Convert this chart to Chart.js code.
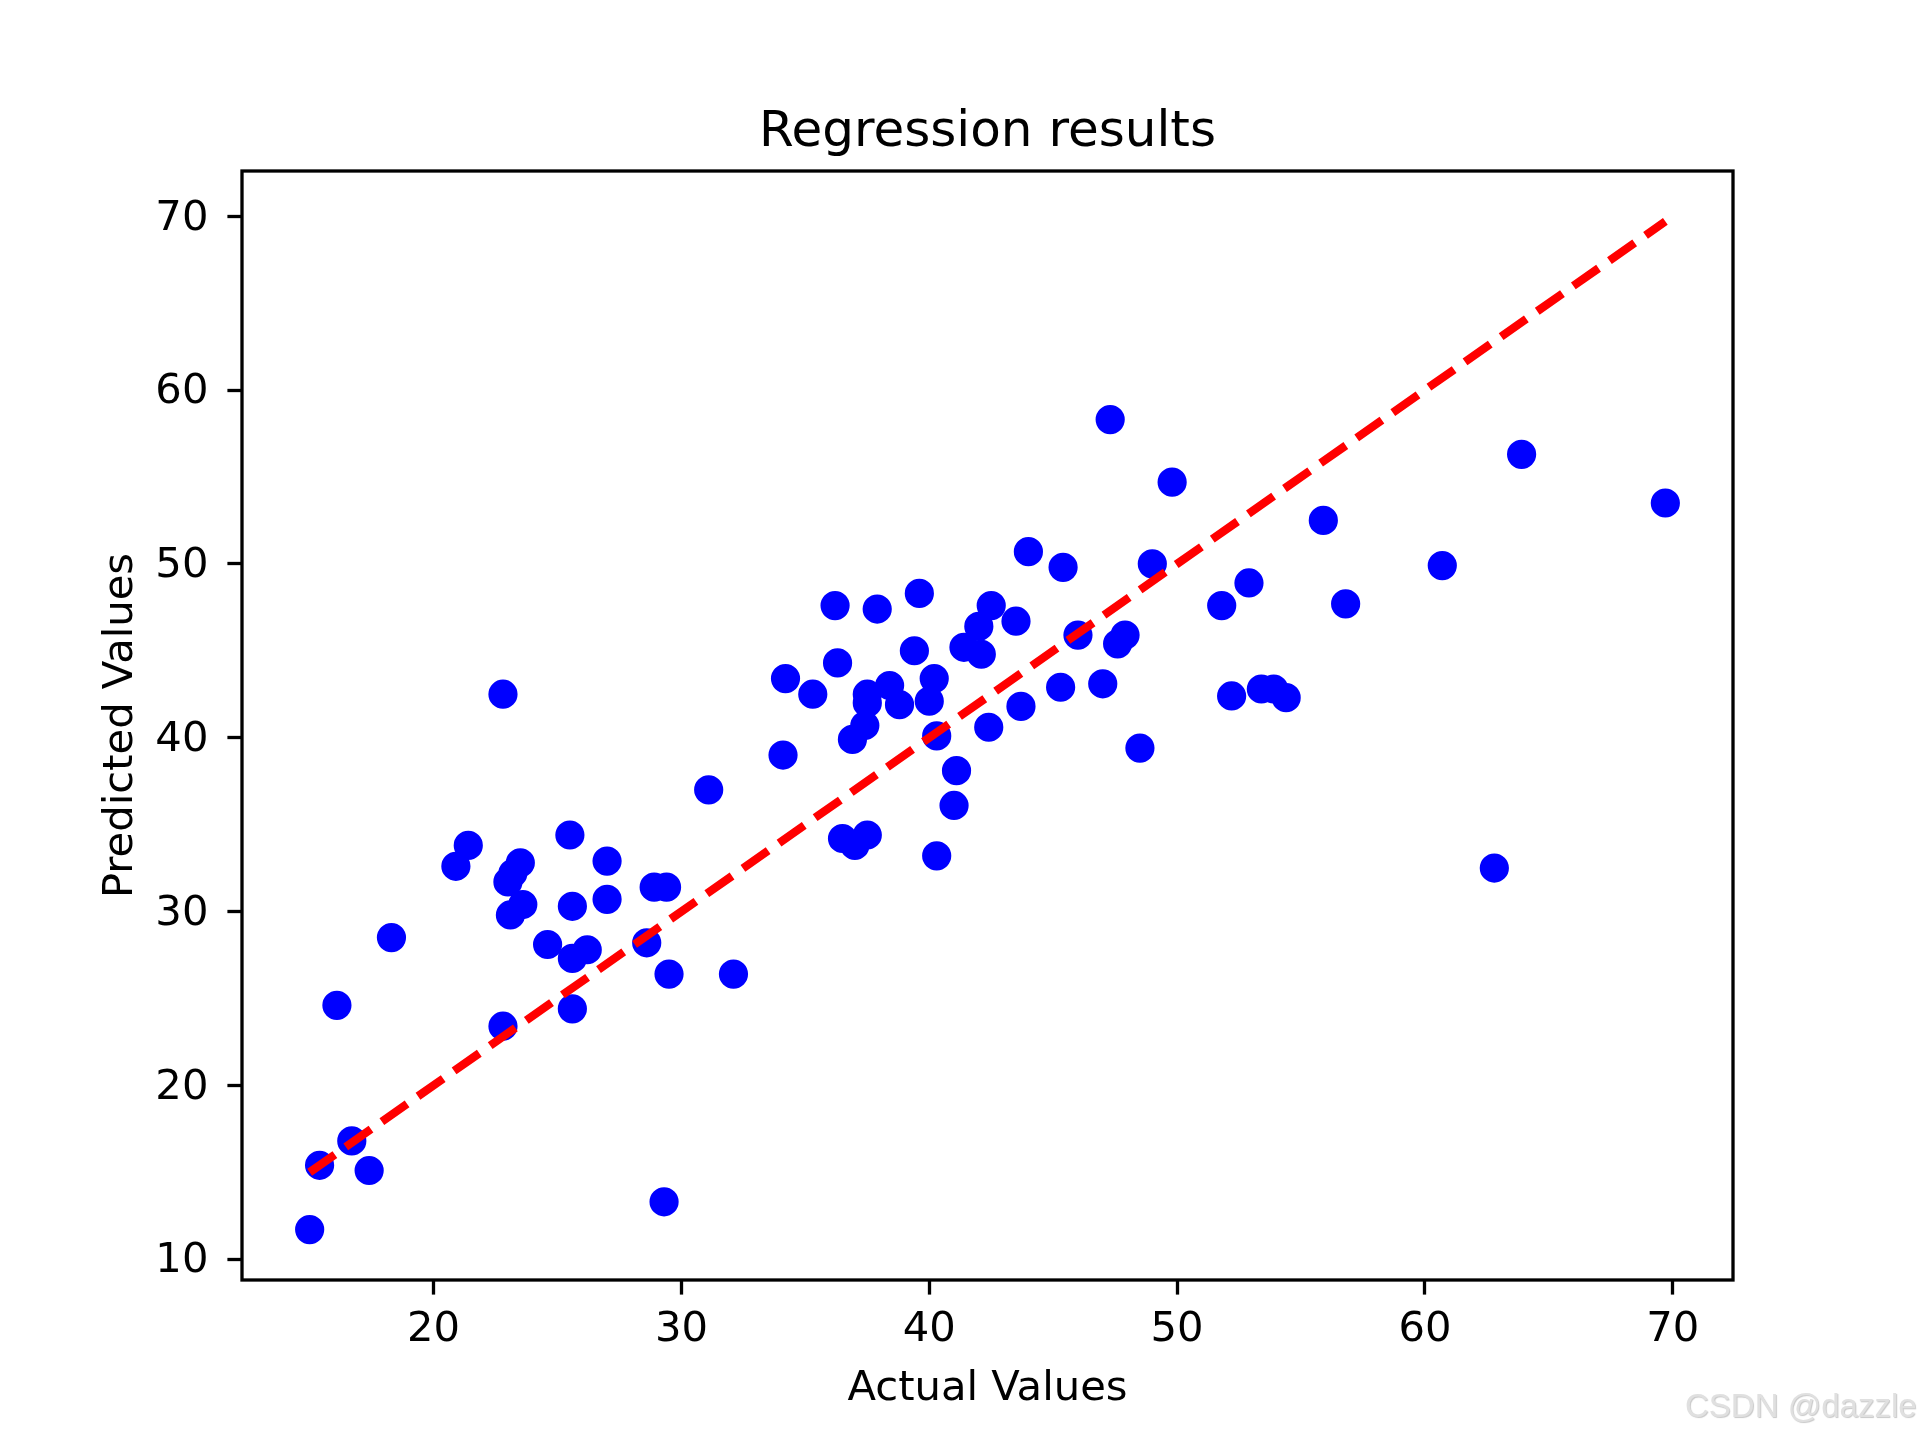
<!DOCTYPE html>
<html>
<head>
<meta charset="utf-8">
<script src="https://cdn.jsdelivr.net/npm/chart.js@4/dist/chart.umd.min.js"></script>
<style>
  html, body { margin: 0; padding: 0; background: #fff; }
  canvas { display: block; }
</style>
</head>
<body>
<canvas id="myChart" width="1926" height="1437"></canvas>
<script>
// scatter data (actual vs predicted)
const actualValues = [
    15.0, 15.4, 16.1, 16.7, 17.4, 18.3, 20.9, 21.4, 22.8, 22.8,
    23.0, 23.2, 23.1, 23.5, 23.6, 24.6, 25.5, 25.6, 25.6, 25.6,
    26.2, 27.0, 27.0, 28.6, 28.9, 29.4, 29.3, 29.5, 31.1, 32.1,
    34.1, 34.2, 35.3, 36.2, 36.3, 36.5, 36.9, 37.0, 37.4, 37.5,
    37.5, 37.5, 37.9, 38.4, 38.8, 39.4, 39.6, 40.0, 40.2, 40.3,
    40.3, 41.0, 41.1, 41.4, 42.0, 42.1, 42.4, 42.5, 43.5, 43.7,
    44.0, 45.3, 45.4, 46.0, 47.0, 47.3, 47.6, 47.9, 48.5, 49.0,
    49.8, 51.8, 52.2, 52.9, 53.4, 53.9, 54.4, 55.9, 56.8, 60.7,
    62.8, 63.9, 69.7
];
const predictedValues = [
    11.7, 15.4, 24.6, 16.8, 15.1, 28.5, 32.6, 33.8, 42.5, 23.4,
    31.7, 32.2, 29.8, 32.8, 30.4, 28.1, 34.4, 30.3, 27.3, 24.4,
    27.8, 32.9, 30.7, 28.2, 31.4, 31.4, 13.3, 26.4, 37.0, 26.4,
    39.0, 43.4, 42.5, 47.6, 44.3, 34.2, 39.9, 33.8, 40.7, 42.0,
    42.5, 34.4, 47.4, 43.0, 41.9, 45.0, 48.3, 42.1, 43.4, 40.1,
    33.2, 36.1, 38.1, 45.2, 46.4, 44.8, 40.6, 47.6, 46.7, 41.8,
    50.7, 42.9, 49.8, 45.9, 43.1, 58.3, 45.4, 45.9, 39.4, 50.0,
    54.7, 47.6, 42.4, 48.9, 42.8, 42.8, 42.3, 52.5, 47.7, 49.9,
    32.5, 56.3, 53.5
];

const xTicks = [20, 30, 40, 50, 60, 70];
const yTicks = [10, 20, 30, 40, 50, 60, 70];

const FONT = "DejaVu Sans";

const points = actualValues.map((v, i) => ({ x: v, y: predictedValues[i] }));
const lo = Math.min(...actualValues);
const hi = Math.max(...actualValues);

// axes frame + watermark
const framePlugin = {
    id: "frame",
    afterDraw(chart) {
        const { ctx, chartArea } = chart;
        ctx.save();
        ctx.strokeStyle = "#000";
        ctx.lineWidth = 3.3;
        ctx.strokeRect(chartArea.left, chartArea.top,
            chartArea.right - chartArea.left, chartArea.bottom - chartArea.top);

        ctx.font = '33px "Liberation Sans", Arial, sans-serif';
        ctx.textAlign = "left";
        ctx.textBaseline = "alphabetic";
        ctx.shadowColor = "rgba(0,0,0,0.22)";
        ctx.shadowOffsetX = 1;
        ctx.shadowOffsetY = 1;
        ctx.shadowBlur = 1;
        ctx.fillStyle = "#e0e0e0";
        ctx.fillText("CSDN @dazzle", 1685, 1417);
        ctx.restore();
    },
};

const config = {
    type: "scatter",
    data: {
        datasets: [{
                type: "line",
                label: "Ideal",
                data: [{ x: lo, y: lo }, { x: hi, y: hi }],
                borderColor: "#ff0000",
                borderWidth: 8.3,
                borderDash: [30.8, 13.3],
                borderCapStyle: "butt",
                pointRadius: 0,
                fill: false,
                order: 1,
            },
            {
                label: "Predictions",
                data: points,
                backgroundColor: "#0000ff",
                borderColor: "#0000ff",
                borderWidth: 4.2,
                pointRadius: 12.5,
                pointHoverRadius: 12.5,
                order: 2,
            },
        ],
    },
    options: {
        responsive: false,
        animation: false,
        layout: {
            padding: { left: 0, right: 193, top: 0, bottom: 0 },
        },
        plugins: {
            legend: { display: false },
            tooltip: { enabled: false },
            title: {
                display: true,
                text: "Regression results",
                color: "#000",
                fullSize: false,
                font: { family: FONT, size: 50, weight: "normal", lineHeight: 1.2 },
                padding: { top: 103.5, bottom: 7.5 },
            },
        },
        scales: {
            x: {
                type: "linear",
                min: 12.27,
                max: 72.43,
                afterBuildTicks: (scale) => {
                    scale.ticks = xTicks.map((v) => ({ value: v }));
                },
                afterFit: (scale) => {
                    scale.height = 157;
                },
                border: { display: false },
                grid: {
                    drawOnChartArea: false,
                    drawTicks: true,
                    tickLength: 14.6,
                    tickWidth: 3.3,
                    tickColor: "#000",
                },
                ticks: {
                    color: "#000",
                    padding: 11,
                    maxRotation: 0,
                    font: { family: FONT, size: 41.7 },
                },
                title: {
                    display: true,
                    text: "Actual Values",
                    color: "#000",
                    font: { family: FONT, size: 41.7, lineHeight: 1.2 },
                    padding: { top: 0, bottom: 23 },
                },
            },
            y: {
                type: "linear",
                min: 8.8,
                max: 72.6,
                afterBuildTicks: (scale) => {
                    scale.ticks = yTicks.map((v) => ({ value: v }));
                },
                afterFit: (scale) => {
                    scale.width = 242;
                },
                border: { display: false },
                grid: {
                    drawOnChartArea: false,
                    drawTicks: true,
                    tickLength: 14.6,
                    tickWidth: 3.3,
                    tickColor: "#000",
                },
                ticks: {
                    color: "#000",
                    padding: 19,
                    labelOffset: 2.5,
                    font: { family: FONT, size: 41.7 },
                },
                title: {
                    display: true,
                    text: "Predicted Values",
                    color: "#000",
                    font: { family: FONT, size: 41.7, lineHeight: 1.2 },
                    padding: { top: 96, bottom: 0 },
                },
            },
        },
    },
    plugins: [framePlugin],
};

const myChart = new Chart(document.getElementById("myChart"), config);
</script>
</body>
</html>
